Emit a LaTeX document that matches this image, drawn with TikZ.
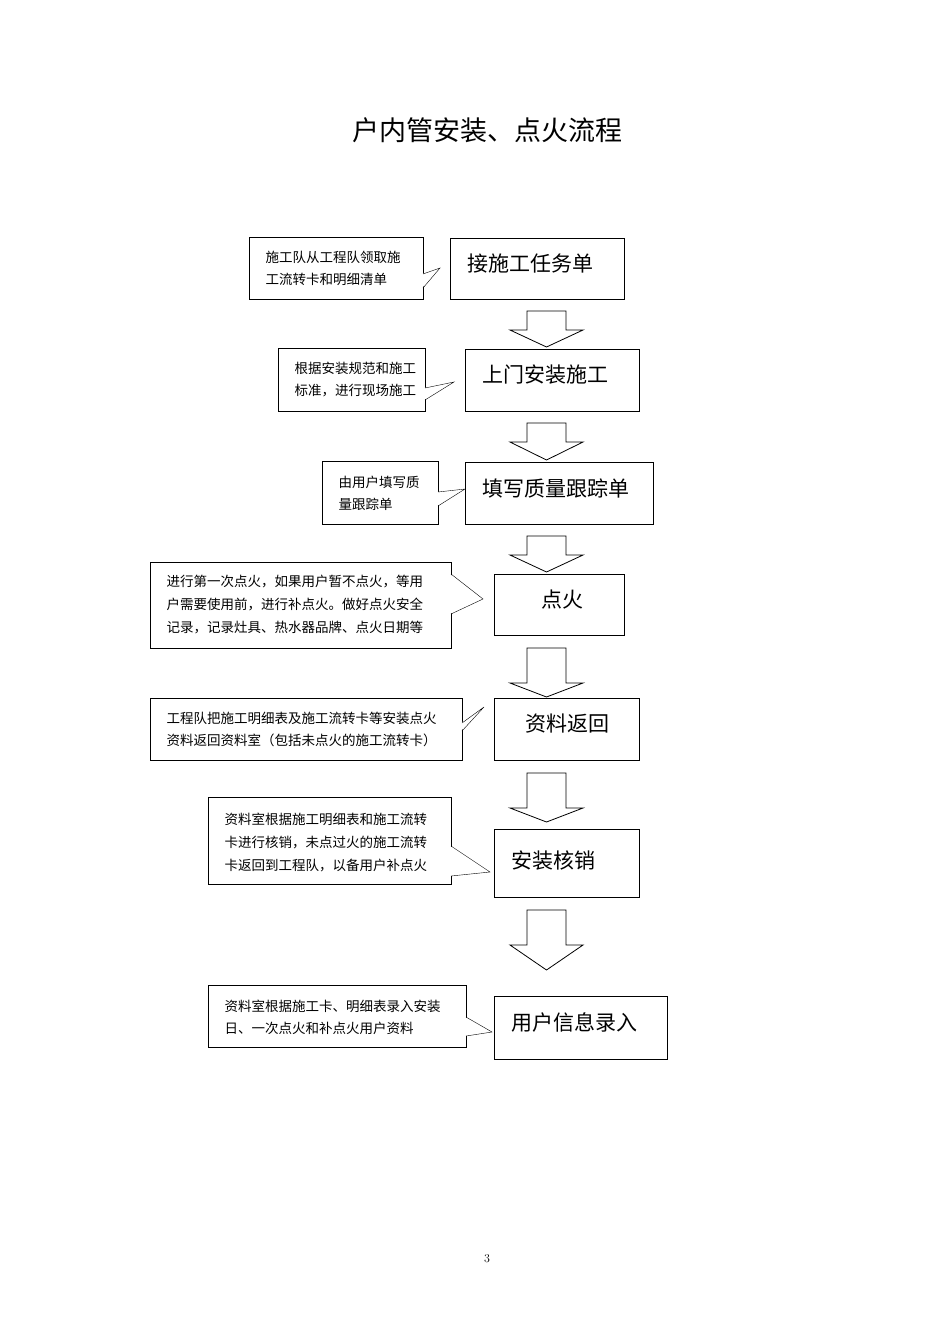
\documentclass[tikz,border=0pt]{standalone}
\usepackage{fontspec}
\newfontfamily\cjk{Noto Sans CJK SC}
\begin{document}
\begin{tikzpicture}[x=1pt,y=-1pt,
  box/.style={draw,thick,anchor=north west,inner sep=0pt},
  btxt/.style={anchor=west,font=\cjk\fontsize{21}{25}\selectfont},
  call/.style={draw,anchor=north west,inner sep=0pt},
  ctxt/.style={anchor=west,align=left,font=\cjk\fontsize{13.5}{25}\selectfont},
  blk/.style={draw,fill=white,line width=0.8pt}]
\useasboundingbox (0,0) rectangle (950,1344);
\node[font=\cjk\fontsize{27}{30}\selectfont] (title) at (487,130) {户内管安装、点火流程};
\node[font=\fontsize{12}{14}\selectfont] (pg) at (487,1259) {3};
% main boxes
\node[box,minimum width=174,minimum height=61] (b1) at (450,238) {};
\node[btxt] at (464,264) {接施工任务单};
\node[box,minimum width=174,minimum height=62] (b2) at (465,349) {};
\node[btxt] at (479,375) {上门安装施工};
\node[box,minimum width=188,minimum height=62] (b3) at (465,462) {};
\node[btxt] at (479,488) {填写质量跟踪单};
\node[box,minimum width=130,minimum height=61] (b4) at (494,574) {};
\node[btxt] at (538,600) {点火};
\node[box,minimum width=145,minimum height=62] (b5) at (494,698) {};
\node[btxt] at (522,724) {资料返回};
\node[box,minimum width=145,minimum height=68] (b6) at (494,829) {};
\node[btxt] at (508,861) {安装核销};
\node[box,minimum width=173,minimum height=63] (b7) at (494,996) {};
\node[btxt] at (508,1022) {用户信息录入};
% block arrows
\foreach \t/\h/\e in {311/330/347, 423/442/460, 536/555/572, 648/683/697, 773/808/822, 910/945/970}{
  \draw[blk] (527,\t) -- (566,\t) -- (566,\h) -- (583,\h) -- (546.5,\e) -- (510,\h) -- (527,\h) -- cycle;
}
% callouts
\newcommand\callout[8]{%
  \node[call,minimum width=#3,minimum height=#4] (#8) at (#1,#2) {};
  \fill[white] (#1+#3-1,#5) -- (#6) -- (#1+#3-1,#7) -- cycle;
  \draw (#1+#3,#5) -- (#6) -- (#1+#3,#7);
}
\callout{249}{237}{174}{62}{274}{440,268}{288}{c1}
\node[ctxt] at (262,268) {施工队从工程队领取施\\[-3pt]工流转卡和明细清单};
\callout{278}{348}{147}{63}{388}{454,382}{400}{c2}
\node[ctxt] at (291,380) {根据安装规范和施工\\[-3pt]标准，进行现场施工};
\callout{322}{461}{116}{63}{492}{465,489}{506}{c3}
\node[ctxt] at (335,493) {由用户填写质\\[-3pt]量跟踪单};
\callout{150}{562}{301}{86}{574}{483,599}{614}{c4}
\node[ctxt] at (163,605) {进行第一次点火，如果用户暂不点火，等用\\[-2pt]户需要使用前，进行补点火。做好点火安全\\[-2pt]记录，记录灶具、热水器品牌、点火日期等};
\callout{150}{698}{312}{62}{723}{484,707}{731}{c5}
\node[ctxt] at (163,729) {工程队把施工明细表及施工流转卡等安装点火\\[-3pt]资料返回资料室（包括未点火的施工流转卡）};
\callout{208}{797}{243}{87}{846}{490,872}{876}{c6}
\node[ctxt] at (221,842) {资料室根据施工明细表和施工流转\\[-2pt]卡进行核销，未点过火的施工流转\\[-2pt]卡返回到工程队，以备用户补点火};
\callout{208}{985}{258}{62}{1017}{492,1032}{1036}{c7}
\node[ctxt] at (221,1017) {资料室根据施工卡、明细表录入安装\\[-3pt]日、一次点火和补点火用户资料};
\end{tikzpicture}
\end{document}
